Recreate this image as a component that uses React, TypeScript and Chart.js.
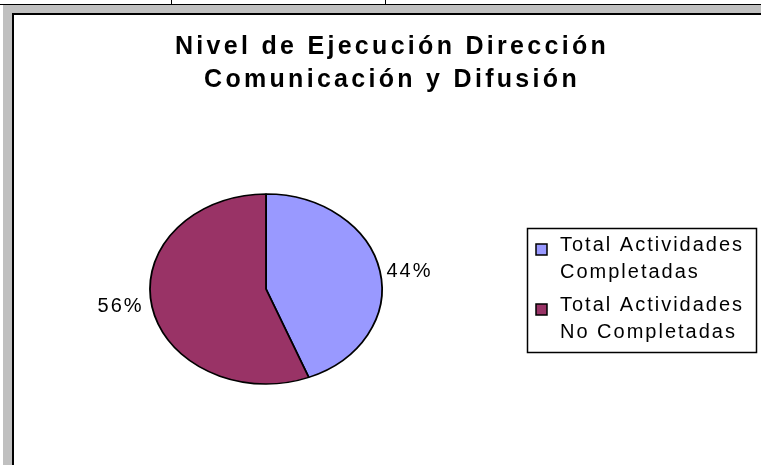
import React, { useEffect, useRef } from "react";
import { Chart, registerables } from "chart.js";
Chart.register(...registerables);

const titleLines = ["Nivel de Ejecución Dirección", "Comunicación y Difusión"];
const categories = [
  ["Total Actividades", "Completadas"],
  ["Total Actividades", "No Completadas"],
];
const values = [44, 56];
const colors = ["#9999FF", "#993366"];

const FONT = '"Liberation Sans", Arial, sans-serif';
const W = 761;
const H = 465;
const SX = 116 / 95;

const framePlugin = {
  id: "frame",
  beforeDraw(chart: any) {
    const ctx = chart.ctx;
    ctx.save();
    ctx.fillStyle = "#ffffff";
    ctx.fillRect(0, 0, W, H);
    ctx.fillStyle = "#000000";
    ctx.fillRect(0, 4, W, 1);
    ctx.fillRect(171, 0, 1, 4);
    ctx.fillRect(385, 0, 1, 4);
    ctx.fillStyle = "#c0c0c0";
    ctx.fillRect(3, 5, W - 3, 8);
    ctx.fillRect(3, 5, 9, H - 5);
    ctx.fillStyle = "#000000";
    ctx.fillRect(12, 13, W - 12, 2);
    ctx.fillRect(12, 13, 2, H - 13);
    ctx.restore();
  },
};

const ellipsePlugin = {
  id: "ellipse",
  beforeDatasetsDraw(chart: any) {
    const arc = chart.getDatasetMeta(0).data[0];
    const ctx = chart.ctx;
    ctx.save();
    ctx.translate(arc.x, arc.y);
    ctx.scale(SX, 1);
    ctx.translate(-arc.x, -arc.y);
  },
  afterDatasetsDraw(chart: any) {
    const ctx = chart.ctx;
    ctx.restore();
    const meta = chart.getDatasetMeta(0);
    const data = chart.data.datasets[0].data as number[];
    const total = data.reduce((a, b) => a + b, 0);
    ctx.save();
    ctx.font = `20px ${FONT}`;
    (ctx as any).letterSpacing = "2px";
    ctx.fillStyle = "#000";
    ctx.textAlign = "center";
    ctx.textBaseline = "middle";
    meta.data.forEach((el: any, i: number) => {
      const mid = (el.startAngle + el.endAngle) / 2;
      const r = el.outerRadius;
      const x = el.x + (r * SX + 31) * Math.cos(mid);
      const y = el.y + r * Math.sin(mid);
      ctx.fillText(Math.round((data[i] / total) * 100) + "%", x - 1, y);
    });
    ctx.restore();
  },
};

const textPlugin = {
  id: "texts",
  afterDraw(chart: any) {
    const ctx = chart.ctx;
    ctx.save();
    ctx.fillStyle = "#000";
    ctx.textBaseline = "middle";
    // title
    ctx.font = `bold 25px ${FONT}`;
    (ctx as any).letterSpacing = "3.3px";
    ctx.textAlign = "center";
    titleLines.forEach((t, i) => ctx.fillText(t, 392, 47 + i * 33));
    // legend
    ctx.strokeStyle = "#000";
    ctx.lineWidth = 1.5;
    ctx.strokeRect(527.5, 228.5, 229, 124);
    ctx.font = `20px ${FONT}`;
    (ctx as any).letterSpacing = "2px";
    ctx.textAlign = "left";
    const labels = chart.data.labels as string[][];
    const bg = chart.data.datasets[0].backgroundColor as string[];
    labels.forEach((lines, i) => {
      const y0 = 245 + i * 60;
      ctx.fillStyle = bg[i];
      ctx.fillRect(536, y0 - 1, 11, 11);
      ctx.lineWidth = 1.5;
      ctx.strokeRect(536, y0 - 1, 11, 11);
      ctx.fillStyle = "#000";
      lines.forEach((ln, j) => ctx.fillText(ln, 560, y0 + j * 27));
    });
    ctx.restore();
  },
};

export default function App() {
  const ref = useRef<HTMLCanvasElement | null>(null);
  useEffect(() => {
    if (!ref.current) return;
    const chart = new Chart(ref.current, {
      type: "pie",
      data: {
        labels: categories as any,
        datasets: [
          {
            data: values,
            backgroundColor: colors,
            borderColor: "#000000",
            borderWidth: 1.5,
          },
        ],
      },
      options: {
        responsive: false,
        animation: false,
        devicePixelRatio: 1,
        events: [],
        radius: 95,
        layout: { padding: { left: 170, right: W - 362, top: 193, bottom: H - 385 } },
        plugins: {
          legend: { display: false },
          title: { display: false },
          tooltip: { enabled: false },
        },
      } as any,
      plugins: [framePlugin, ellipsePlugin, textPlugin],
    });
    return () => chart.destroy();
  }, []);
  return (
    <div style={{ position: "fixed", left: 0, top: 0, width: W, height: H }}>
      <canvas ref={ref} width={W} height={H} style={{ width: W, height: H, display: "block" }} />
    </div>
  );
}
